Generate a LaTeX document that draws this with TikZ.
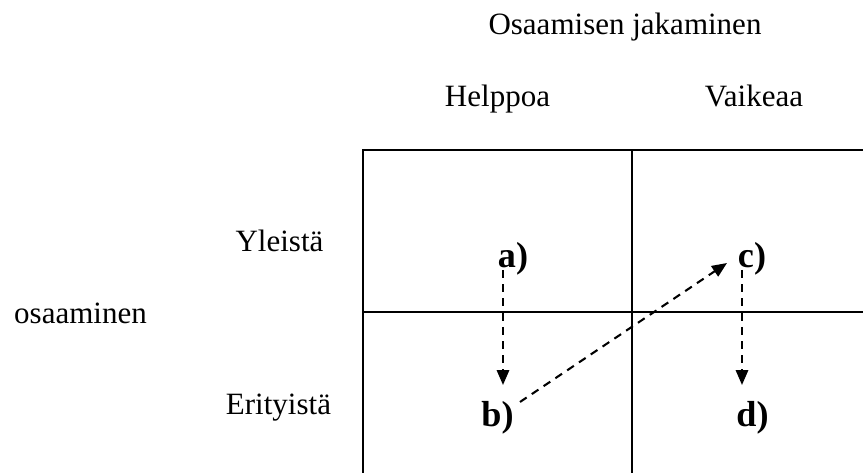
\documentclass[tikz,border=0pt]{standalone}
\usepackage{fontspec}
\setmainfont{Liberation Serif}
\usetikzlibrary{positioning, arrows.meta, calc}

\begin{document}
\begin{tikzpicture}[
        x=0.387pt, y=0.387pt,
        lbl/.style={anchor=base, inner sep=0pt, font=\fontsize{12pt}{14pt}\selectfont},
        cell/.style={anchor=base, inner sep=0pt, font=\fontsize{14pt}{17pt}\selectfont\bfseries},
        gridline/.style={line width=0.75pt, black},
        arr/.style={-{Triangle[length=5.8pt, width=4.8pt]}, line width=0.8pt, dash pattern=on 3.1pt off 2.4pt},
    ]
        \useasboundingbox (0,0) rectangle (863,472);
        \clip (0,0) rectangle (863,472);

        % Grid (right and bottom edges run off the picture)
        \draw[gridline] (363,-10) -- (363,322) -- (880,322);
        \draw[gridline] (632,-10) -- (632,322);
        \draw[gridline] (363,160) -- (880,160);

        % Headings
        \node[lbl] (title) at (625,437) {Osaamisen jakaminen};
        \node[lbl] (easy) at (497.5,365) {Helppoa};
        \node[lbl] (hard) at (754,365) {Vaikeaa};
        \node[lbl] (general) at (279.5,220) {Yleistä};
        \node[lbl] (skill) at (80.5,149) {osaaminen};
        \node[lbl] (special) at (278.5,58) {Erityistä};

        % Cells
        \node[cell] (a) at (513,205) {a)};
        \node[cell] (b) at (497.5,45) {b)};
        \node[cell] (c) at (752,205) {c)};
        \node[cell] (d) at (752.5,45) {d)};

        % Arrows
        \draw[arr] ($(a.base)+(-10,-3)$) -- ($(b.base)+(5.5,42)$);
        \draw[arr] ($(b.base)+(22.5,25)$) -- ($(c.base)+(-25,4)$);
        \draw[arr] ($(c.base)+(-10,-3)$) -- ($(d.base)+(-10.5,42)$);
    \end{tikzpicture}
\end{document}
